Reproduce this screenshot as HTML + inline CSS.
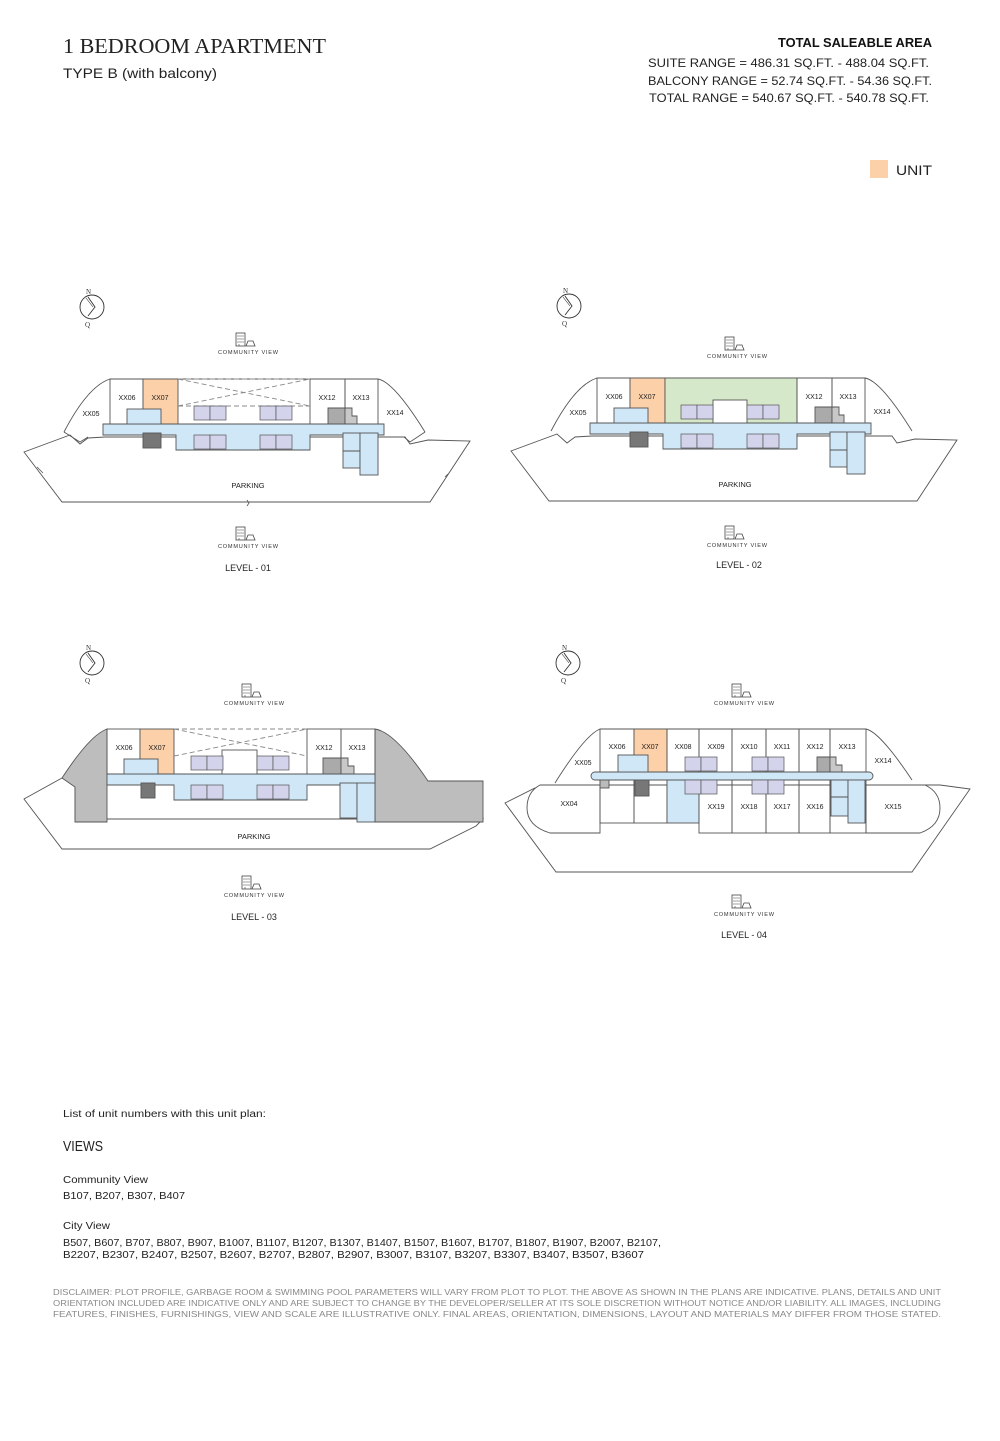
<!DOCTYPE html>
<html><head><meta charset="utf-8"><style>
html,body{margin:0;padding:0;background:#fff}
svg{display:block}
.s{font-family:"Liberation Sans",sans-serif}
</style></head><body>
<svg width="1000" height="1441" viewBox="0 0 1000 1441" xmlns="http://www.w3.org/2000/svg" class="s">
<defs>
<g id="cv">
  <rect x="-12" y="-18" width="9" height="13" fill="none" stroke="#444" stroke-width="0.8"/>
  <path d="M-11,-15h7M-11,-12h7M-11,-9h7M-9,-7v2" stroke="#444" stroke-width="0.6"/>
  <path d="M-2,-5 l2,-5 h5 l2,5 z" fill="none" stroke="#444" stroke-width="0.8"/>
  <text x="0" y="3" font-size="5.6" text-anchor="middle" fill="#333" textLength="60">COMMUNITY VIEW</text>
</g>
<g id="north">
  <circle cx="0" cy="0" r="12" fill="none" stroke="#333" stroke-width="0.9"/>
  <path d="M-4,-10 L3,0 L-4,9" fill="none" stroke="#333" stroke-width="0.9"/>
  <path d="M-6,-9 L1,0" stroke="#333" stroke-width="0.6"/>
  <text x="-6" y="-13" font-size="7" font-family="Liberation Serif,serif" fill="#333">N</text>
  <text x="-7" y="20" font-size="7" font-family="Liberation Serif,serif" fill="#333">Q</text>
</g>
<g id="lav2">
  <rect x="0" y="0" width="16" height="14" fill="#d3d3ec" stroke="#555" stroke-width="0.7"/>
  <rect x="16" y="0" width="16" height="14" fill="#d3d3ec" stroke="#555" stroke-width="0.7"/>
</g>
</defs>

<!-- Header -->
<text x="63" y="53" font-family="Liberation Serif,serif" font-size="21" fill="#222" textLength="263" lengthAdjust="spacingAndGlyphs">1 BEDROOM APARTMENT</text>
<text x="63" y="78" font-size="14" fill="#222" textLength="154" lengthAdjust="spacingAndGlyphs">TYPE B (with balcony)</text>
<text x="932" y="47" font-size="12.5" font-weight="bold" fill="#111" text-anchor="end" textLength="154" lengthAdjust="spacingAndGlyphs">TOTAL SALEABLE AREA</text>
<text x="929" y="67" font-size="12" fill="#222" text-anchor="end" textLength="281" lengthAdjust="spacingAndGlyphs">SUITE RANGE = 486.31 SQ.FT. - 488.04 SQ.FT.</text>
<text x="932" y="85" font-size="12" fill="#222" text-anchor="end" textLength="284" lengthAdjust="spacingAndGlyphs">BALCONY RANGE = 52.74 SQ.FT. - 54.36 SQ.FT.</text>
<text x="929" y="102" font-size="12" fill="#222" text-anchor="end" textLength="280" lengthAdjust="spacingAndGlyphs">TOTAL RANGE = 540.67 SQ.FT. - 540.78 SQ.FT.</text>
<rect x="870" y="160" width="18" height="18" fill="#fcd0a8"/>
<text x="932" y="175" font-size="14" fill="#222" text-anchor="end" textLength="36" lengthAdjust="spacingAndGlyphs">UNIT</text>

<!-- LEVEL 01 -->
<g id="L1" stroke="#555" stroke-width="0.9" fill="none">
  <path d="M24,452 L70,435 L80,444 L88,438 L105,437 L384,437 L405,437 L410,444 L428,440 L470,441 L430,502 L62,502 Z" fill="#fff"/>
  <path d="M64,432 Q88,386 110,379 L378,379 Q394,382 425,432" fill="#fff"/>
  <path d="M64,432 L80,442 L88,437 M425,432 L410,442 L404,437"/>
  <rect x="110" y="379" width="33" height="45"/>
  <rect x="143" y="379" width="35" height="45" fill="#fcd0a8"/>
  <rect x="310" y="379" width="35" height="45"/>
  <rect x="345" y="379" width="33" height="45"/>
  <path d="M178,379 L310,379 M178,379 L310,406 M178,406 L310,379" stroke-dasharray="5,3" stroke="#888"/>
  <path d="M178,406 L310,406" stroke="#888" stroke-dasharray="5,3"/>
  <path d="M103,424 H384 V435 H310 V450 H176 V435 H103 Z" fill="#cfe7f7"/>
  <rect x="127" y="409" width="34" height="15" fill="#cfe7f7"/>
  <use href="#lav2" x="194" y="406"/><use href="#lav2" x="260" y="406"/>
  <use href="#lav2" x="194" y="435"/><use href="#lav2" x="260" y="435"/>
  <rect x="143" y="433" width="18" height="15" fill="#777"/>
  <path d="M328,408 H345 V424 H328 Z" fill="#aaa"/>
  <path d="M345,408 H352 V416 H357 V424 H345 Z" fill="#c8c8c8"/>
  <rect x="343" y="433" width="17" height="35" fill="#cfe7f7"/>
  <rect x="360" y="433" width="18" height="42" fill="#cfe7f7"/>
  <path d="M343,451 H360"/>
  <path d="M40,470 l-3,-3 M40,470 l3,3 M247,500 l2,3 l-2,3 M445,477 l3,-3" stroke-width="0.8"/>
</g>
<g font-size="7" fill="#222" text-anchor="middle">
<text x="91" y="416">XX05</text><text x="127" y="400">XX06</text><text x="160" y="400">XX07</text>
<text x="327" y="400">XX12</text><text x="361" y="400">XX13</text><text x="395" y="415">XX14</text>
<text x="248" y="488" font-size="7.5">PARKING</text>
<text x="248" y="571" font-size="9">LEVEL - 01</text>
</g>
<use href="#north" x="92" y="307"/>
<use href="#cv" x="248" y="351"/>
<use href="#cv" x="248" y="545"/>

<!-- LEVEL 02 -->
<g transform="translate(487,-1)">
<g stroke="#555" stroke-width="0.9" fill="none">
  <path d="M24,452 L70,435 L80,444 L88,438 L105,437 L384,437 L405,437 L410,444 L428,440 L470,441 L430,502 L62,502 Z" fill="#fff"/>
  <path d="M64,432 Q88,386 110,379 L378,379 Q394,382 425,432" fill="#fff"/>
  <rect x="110" y="379" width="33" height="45"/>
  <rect x="143" y="379" width="35" height="45" fill="#fcd0a8"/>
  <rect x="178" y="379" width="132" height="45" fill="#d5e8c9"/>
  <rect x="310" y="379" width="35" height="45"/>
  <rect x="345" y="379" width="33" height="45"/>
  <path d="M103,424 H384 V435 H310 V450 H176 V435 H103 Z" fill="#cfe7f7"/>
  <rect x="226" y="401" width="34" height="23" fill="#fff"/>
  <rect x="127" y="409" width="34" height="15" fill="#cfe7f7"/>
  <use href="#lav2" x="194" y="406"/><use href="#lav2" x="260" y="406"/>
  <use href="#lav2" x="194" y="435"/><use href="#lav2" x="260" y="435"/>
  <rect x="143" y="433" width="18" height="15" fill="#777"/>
  <path d="M328,408 H345 V424 H328 Z" fill="#aaa"/>
  <path d="M345,408 H352 V416 H357 V424 H345 Z" fill="#c8c8c8"/>
  <rect x="343" y="433" width="17" height="35" fill="#cfe7f7"/>
  <rect x="360" y="433" width="18" height="42" fill="#cfe7f7"/>
  <path d="M343,451 H360"/>
</g>
<g font-size="7" fill="#222" text-anchor="middle">
<text x="91" y="416">XX05</text><text x="127" y="400">XX06</text><text x="160" y="400">XX07</text>
<text x="327" y="400">XX12</text><text x="361" y="400">XX13</text><text x="395" y="415">XX14</text>
<text x="248" y="488" font-size="7.5">PARKING</text>
<text x="252" y="569" font-size="9">LEVEL - 02</text>
</g>
<use href="#north" x="82" y="307"/>
<use href="#cv" x="250" y="356"/>
<use href="#cv" x="250" y="545"/>
</g>

<!-- LEVEL 03 -->
<g transform="translate(0,350)">
<g stroke="#555" stroke-width="0.9" fill="none">
  <path d="M24,452 L62,431 L75,437 L75,472 L483,472 L476,479 L430,502 L62,502 Z" fill="#fff" transform="translate(0,-3)"/>
  <path d="M62,428 Q90,385 107,379 L107,472 L75,472 L75,437 Z" fill="#bdbdbd"/>
  <path d="M375,379 Q395,382 428,431 L483,431 L483,472 L375,472 Z" fill="#bdbdbd"/>
  <rect x="107" y="379" width="33" height="45"/>
  <rect x="140" y="379" width="34" height="45" fill="#fcd0a8"/>
  <rect x="307" y="379" width="34" height="45"/>
  <rect x="341" y="379" width="34" height="45"/>
  <path d="M174,379 L307,379 M174,379 L307,406 M174,406 L307,379" stroke-dasharray="5,3" stroke="#888"/>
  <path d="M107,424 H375 V435 H307 V450 H174 V435 H107 Z" fill="#cfe7f7"/>
  <rect x="222" y="400" width="35" height="24" fill="#fff"/>
  <rect x="124" y="409" width="34" height="15" fill="#cfe7f7"/>
  <use href="#lav2" x="191" y="406"/><use href="#lav2" x="257" y="406"/>
  <use href="#lav2" x="191" y="435"/><use href="#lav2" x="257" y="435"/>
  <rect x="141" y="433" width="14" height="15" fill="#777"/>
  <path d="M323,408 H341 V424 H323 Z" fill="#aaa"/>
  <path d="M341,408 H348 V416 H354 V424 H341 Z" fill="#c8c8c8"/>
  <rect x="340" y="433" width="17" height="35" fill="#cfe7f7"/>
  <rect x="357" y="433" width="18" height="39" fill="#cfe7f7"/>
</g>
<g font-size="7" fill="#222" text-anchor="middle">
<text x="124" y="400">XX06</text><text x="157" y="400">XX07</text>
<text x="324" y="400">XX12</text><text x="357" y="400">XX13</text>
<text x="254" y="489" font-size="7.5">PARKING</text>
<text x="254" y="570" font-size="9">LEVEL - 03</text>
</g>
<use href="#north" x="92" y="313"/>
<use href="#cv" x="254" y="352"/>
<use href="#cv" x="254" y="544"/>
</g>

<!-- LEVEL 04 -->
<g stroke="#555" stroke-width="0.9" fill="none">
  <path d="M505,803 L535,788 L580,788 L580,785 L940,785 L970,789 L912,872 L556,872 Z" fill="#fff"/>
  <path d="M555,783 Q585,735 600,729 L866,729 Q880,732 912,780" fill="#fff"/>
  <path d="M600,785 H540 Q527,792 527,808 Q527,826 550,833 H600 Z" fill="#fff"/>
  <path d="M866,785 H925 Q940,792 940,808 Q940,826 920,833 H866 Z" fill="#fff"/>
  <rect x="600" y="729" width="34" height="43"/>
  <rect x="634" y="729" width="33" height="43" fill="#fcd0a8"/>
  <rect x="667" y="729" width="32" height="43"/>
  <rect x="699" y="729" width="33" height="43"/>
  <rect x="732" y="729" width="34" height="43"/>
  <rect x="766" y="729" width="33" height="43"/>
  <rect x="799" y="729" width="31" height="43"/>
  <rect x="830" y="729" width="36" height="43"/>
  <rect x="600" y="780" width="34" height="43"/>
  <rect x="634" y="780" width="33" height="43"/>
  <rect x="667" y="780" width="32" height="43" fill="#cfe7f7"/>
  <rect x="699" y="780" width="33" height="53"/>
  <rect x="732" y="780" width="34" height="53"/>
  <rect x="766" y="780" width="33" height="53"/>
  <rect x="799" y="780" width="31" height="53"/>
  <rect x="830" y="780" width="36" height="53"/>
  <rect x="591" y="772" width="282" height="8" rx="4" fill="#cfe7f7"/>
  <rect x="618" y="755" width="30" height="17" fill="#cfe7f7"/>
  <use href="#lav2" x="685" y="757" transform="scale(1)"/>
  <use href="#lav2" x="752" y="757"/>
  <use href="#lav2" x="685" y="780"/>
  <use href="#lav2" x="752" y="780"/>
  <rect x="600" y="780" width="9" height="8" fill="#bbb"/>
  <rect x="635" y="780" width="14" height="16" fill="#777"/>
  <path d="M817,757 H830 V772 H817 Z" fill="#aaa"/>
  <path d="M830,757 H836 V765 H842 V772 H830 Z" fill="#c8c8c8"/>
  <rect x="831" y="780" width="17" height="36" fill="#cfe7f7"/>
  <rect x="848" y="780" width="17" height="43" fill="#cfe7f7"/>
  <path d="M831,797 H848"/>
</g>
<g font-size="7" fill="#222" text-anchor="middle">
<text x="583" y="765">XX05</text><text x="617" y="749">XX06</text><text x="650" y="749">XX07</text>
<text x="683" y="749">XX08</text><text x="716" y="749">XX09</text><text x="749" y="749">XX10</text>
<text x="782" y="749">XX11</text><text x="815" y="749">XX12</text><text x="847" y="749">XX13</text>
<text x="883" y="763">XX14</text><text x="569" y="806">XX04</text><text x="716" y="809">XX19</text>
<text x="749" y="809">XX18</text><text x="782" y="809">XX17</text><text x="815" y="809">XX16</text>
<text x="893" y="809">XX15</text>
<text x="744" y="938" font-size="9">LEVEL - 04</text>
</g>
<use href="#north" x="568" y="663"/>
<use href="#cv" x="744" y="702"/>
<use href="#cv" x="744" y="913"/>

<!-- Bottom text -->
<g fill="#222">
<text x="63" y="1117" font-size="10" textLength="203" lengthAdjust="spacingAndGlyphs">List of unit numbers with this unit plan:</text>
<text x="63" y="1151" font-size="15" textLength="40" lengthAdjust="spacingAndGlyphs">VIEWS</text>
<text x="63" y="1183" font-size="10.5" textLength="85" lengthAdjust="spacingAndGlyphs">Community View</text>
<text x="63" y="1199" font-size="10.5" textLength="122" lengthAdjust="spacingAndGlyphs">B107, B207, B307, B407</text>
<text x="63" y="1229" font-size="10.5" textLength="47" lengthAdjust="spacingAndGlyphs">City View</text>
<text x="63" y="1246" font-size="10.5" textLength="598" lengthAdjust="spacingAndGlyphs">B507, B607, B707, B807, B907, B1007, B1107, B1207, B1307, B1407, B1507, B1607, B1707, B1807, B1907, B2007, B2107,</text>
<text x="63" y="1258" font-size="10.5" textLength="581" lengthAdjust="spacingAndGlyphs">B2207, B2307, B2407, B2507, B2607, B2707, B2807, B2907, B3007, B3107, B3207, B3307, B3407, B3507, B3607</text>
</g>
<g fill="#888" font-size="8.3">
<text x="53" y="1295" textLength="888" lengthAdjust="spacingAndGlyphs">DISCLAIMER: PLOT PROFILE, GARBAGE ROOM &amp; SWIMMING POOL PARAMETERS WILL VARY FROM PLOT TO PLOT. THE ABOVE AS SHOWN IN THE PLANS ARE INDICATIVE. PLANS, DETAILS AND UNIT</text>
<text x="53" y="1306" textLength="888" lengthAdjust="spacingAndGlyphs">ORIENTATION INCLUDED ARE INDICATIVE ONLY AND ARE SUBJECT TO CHANGE BY THE DEVELOPER/SELLER AT ITS SOLE DISCRETION WITHOUT NOTICE AND/OR LIABILITY. ALL IMAGES, INCLUDING</text>
<text x="53" y="1317" textLength="888" lengthAdjust="spacingAndGlyphs">FEATURES, FINISHES, FURNISHINGS, VIEW AND SCALE ARE ILLUSTRATIVE ONLY. FINAL AREAS, ORIENTATION, DIMENSIONS, LAYOUT AND MATERIALS MAY DIFFER FROM THOSE STATED.</text>
</g>
</svg>
</body></html>
